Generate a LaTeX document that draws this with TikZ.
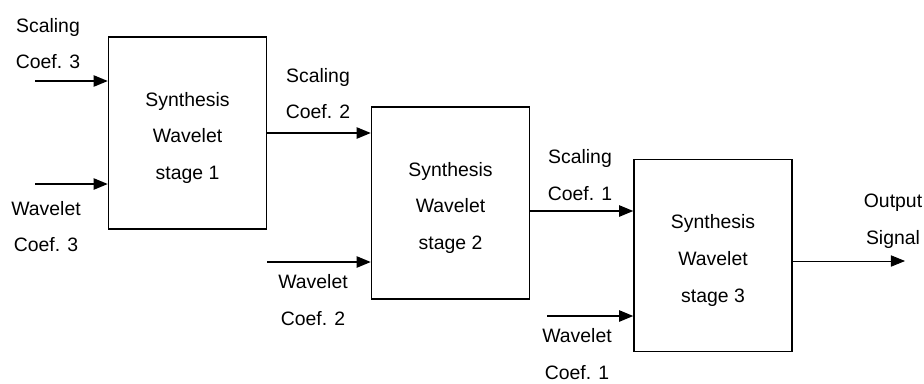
\documentclass[tikz,border=0pt]{standalone}
\usepackage{fontspec}
\setmainfont{Liberation Sans}
\usetikzlibrary{arrows.meta}

\begin{document}
\begin{tikzpicture}[x=0.025cm,y=-0.025cm,
  every node/.style={font=\fontsize{13.8}{26}\selectfont,align=center},
  stagebox/.style={draw,line width=1pt,inner sep=0pt,text height=69pt,
    minimum width=3.95cm,minimum height=4.8cm},
  sig/.style={line width=1pt,-{Triangle[length=10pt,width=8pt]}}]
  \useasboundingbox (0,0) rectangle (924,383);
  % synthesis stages
  \node[stagebox] (syn1) at (187.5,133) {Synthesis\\Wavelet\\stage 1};
  \node[stagebox] (syn2) at (450.5,203) {Synthesis\\Wavelet\\stage 2};
  \node[stagebox] (syn3) at (713,255.5) {Synthesis\\Wavelet\\stage 3};
  % inputs
  \coordinate (sc3) at (35,81);
  \coordinate (wc3) at (35,184);
  \coordinate (wc2) at (267,262);
  \coordinate (wc1) at (547,316);
  \coordinate (sig) at (905,261);
  \draw[sig] (sc3) -- (sc3 -| syn1.west);
  \draw[sig] (wc3) -- (wc3 -| syn1.west);
  \draw[sig] (syn1.east) -- (syn1.east -| syn2.west);
  \draw[sig] (wc2) -- (wc2 -| syn2.west);
  \path (syn2.east) ++(0,8) coordinate (sc1);
  \draw[sig] (sc1) -- (sc1 -| syn3.west);
  \draw[sig] (wc1) -- (wc1 -| syn3.west);
  \draw[sig,line width=0.6pt] (sig -| syn3.east) -- (sig);
  % labels
  \node (lsc3) at (48,43.5) {Scaling\\Coef. 3};
  \node (lwc3) at (46,226.5) {Wavelet\\Coef. 3};
  \node (lsc2) at (318,93.5) {Scaling\\Coef. 2};
  \node (lwc2) at (313,300) {Wavelet\\Coef. 2};
  \node (lsc1) at (580,175) {Scaling\\Coef. 1};
  \node (lwc1) at (577,354) {Wavelet\\Coef. 1};
  \node (lout) at (893,221) {Output\\Signal};
\end{tikzpicture}
\end{document}
